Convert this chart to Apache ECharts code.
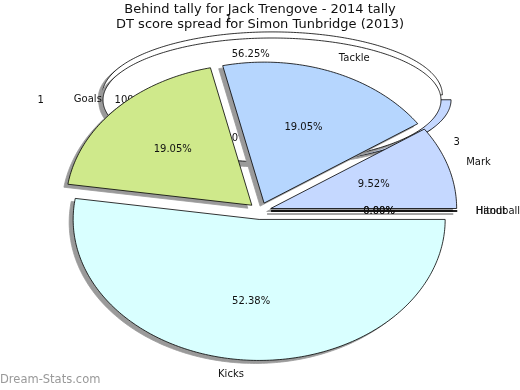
<!DOCTYPE html>
<html><head><meta charset="utf-8">
<script src="https://cdn.jsdelivr.net/npm/echarts@6/dist/echarts.min.js"></script>
<style>html,body{margin:0;padding:0;background:#fff}#c{width:520px;height:390px}</style>
</head><body><div id="c"></div>
<script>
// ---- text ----
const titleLines = ['Behind tally for Jack Trengove - 2014 tally', 'DT score spread for Simon Tunbridge (2013)'];
const watermark = 'Dream-Stats.com';

// ---- foreground pie: DT score spread for Simon Tunbridge (2013) ----
const dtCategories = ['Kicks', 'Goals', 'Tackle', 'Mark', 'Handball', 'Hitout'];
const dtValues = [11, 4, 4, 2, 0, 0];
const dtColors = ['#d9ffff', '#cfe98b', '#b6d6fe', '#c5d8ff', '#c5d8ff', '#c5d8ff'];

// ---- behind tally pie (Jack Trengove 2014) ----
const behindCategories = ['1', '2', '3'];
const behindValues = [9, 4, 3];
const behindColors = ['#ffffff', '#ffffff', '#c5d8ff'];

// ---- overlaid single-slice behind tally ----
const tallyCategories = ['1'];
const tallyValues = [1];
const tallyColors = ['#ffffff'];

const FONT = '"DejaVu Sans", "Liberation Sans", sans-serif';

function makeRender(cfg, part) {
  const total = cfg.values.reduce((a, b) => a + b, 0);
  const starts = [];
  let acc = 0;
  cfg.values.forEach(v => { starts.push(acc); acc += v; });
  return function (params, api) {
    const i = params.dataIndex;
    const v = cfg.values[i];
    const a0 = cfg.start + cfg.dir * starts[i] / total * 2 * Math.PI;
    const a1 = cfg.start + cfg.dir * (starts[i] + v) / total * 2 * Math.PI;
    const am = (a0 + a1) / 2;
    const ox = Math.cos(am) * cfg.explode, oy = Math.sin(am) * cfg.explode;
    const c = Math.cos(am), s = Math.sin(am);
    if (part === 'label') {
      const np = api.coord([ox + c * cfg.nameK, oy + s * cfg.nameK]);
      const pp = api.coord([ox + c * cfg.pctK, oy + s * cfg.pctK]);
      const pct = (v / total * 100).toFixed(2) + '%';
      const nameAlign = c >= 0 ? 'left' : 'right';
      return {
        type: 'group',
        children: [
          { type: 'text', style: { text: cfg.names[i], x: np[0], y: np[1], align: nameAlign, textAlign: nameAlign, verticalAlign: 'middle', textVerticalAlign: 'middle', fill: '#111', font: '10px ' + FONT } },
          { type: 'text', style: { text: pct, x: pp[0], y: pp[1], align: 'center', textAlign: 'center', verticalAlign: 'middle', textVerticalAlign: 'middle', fill: '#111', font: '10px ' + FONT } }
        ]
      };
    }
    const full = v / total > 0.9999;
    const pts = [];
    if (!full) pts.push(api.coord([ox, oy]));
    const n = Math.max(2, Math.ceil(Math.abs(a1 - a0) / (Math.PI / 180)));
    for (let k = 0; k <= n; k++) {
      const t = a0 + (a1 - a0) * k / n;
      pts.push(api.coord([ox + Math.cos(t), oy + Math.sin(t)]));
    }
    const shadowPts = pts.map(p => [p[0] + cfg.sx, p[1] + cfg.sy]);
    return {
      type: 'group',
      children: [
        { type: 'polygon', z2: 0, shape: { points: shadowPts }, style: { fill: '#9a9a9a', stroke: '#9a9a9a', lineWidth: 0.8 } },
        { type: 'polygon', z2: 1, shape: { points: pts }, style: { fill: cfg.colors[i], stroke: '#000', lineWidth: 0.8 } }
      ]
    };
  };
}

const pies = [
  { // behind tally, three slices (drawn at back)
    names: behindCategories, values: behindValues, colors: behindColors,
    start: 0, dir: 1, explode: 0.05, sx: -4, sy: 3, nameK: 1.22, pctK: 0.65,
    grid: { left: 104, top: 35, width: 340, height: 126 }, zShape: 1, zLabel: 3
  },
  { // single-slice tally
    names: tallyCategories, values: tallyValues, colors: tallyColors,
    start: 0, dir: 1, explode: 0, sx: -4, sy: 3, nameK: 1.35, pctK: 0.8,
    grid: { left: 103, top: 38, width: 338, height: 124 }, zShape: 2, zLabel: 3
  },
  { // DT score spread (front)
    names: dtCategories, values: dtValues, colors: dtColors,
    start: 0, dir: -1, explode: 0.06, sx: -4, sy: 3, nameK: 1.1, pctK: 0.58,
    grid: { left: 74, top: 70, width: 372, height: 282 }, zShape: 4, zLabel: 5
  }
];

const series = [];
pies.forEach((p, i) => {
  ['shape', 'label'].forEach(part => {
    series.push({
      type: 'custom', xAxisIndex: i, yAxisIndex: i, z: part === 'shape' ? p.zShape : p.zLabel, clip: false,
      renderItem: makeRender(p, part),
      data: p.values.map((v, j) => ({ name: p.names[j], value: [0, 0, v] })),
      encode: { x: 0, y: 1 }
    });
  });
});

const option = {
  animation: false,
  backgroundColor: '#fff',
  title: [
    { text: titleLines.join('\n'), left: 'center', top: 2, padding: 0,
      textStyle: { fontSize: 13, fontWeight: 'normal', color: '#111', fontFamily: FONT, lineHeight: 15 } },
    { text: watermark, left: 0, top: 374, padding: 0,
      textStyle: { fontSize: 11.5, fontWeight: 'normal', color: '#999', fontFamily: FONT } }
  ],
  grid: pies.map(p => p.grid),
  xAxis: pies.map((p, i) => ({ gridIndex: i, type: 'value', min: -1, max: 1, show: false })),
  yAxis: pies.map((p, i) => ({ gridIndex: i, type: 'value', min: -1, max: 1, show: false })),
  series: series
};

const chart = echarts.init(document.getElementById('c'), null, { renderer: 'canvas' });
chart.setOption(option);
</script>
</body></html>
